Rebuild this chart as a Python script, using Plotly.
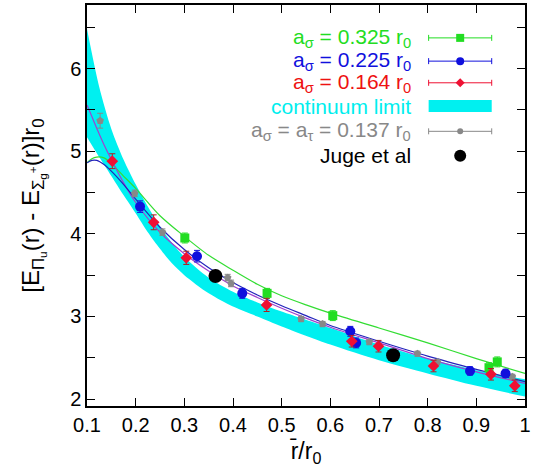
import plotly.graph_objects as go

# ---- data ----
band_x = [0.1, 0.125, 0.15, 0.175, 0.2, 0.225, 0.25, 0.275, 0.3, 0.35, 0.4, 0.45, 0.5, 0.6, 0.7, 0.8, 0.9, 1.0]
band_lo = [5.17, 4.93, 4.70, 4.47, 4.25, 4.02, 3.82, 3.64, 3.50, 3.28, 3.12, 3.00, 2.88, 2.66, 2.47, 2.31, 2.16, 2.03]
band_hi = [6.48, 5.78, 5.27, 4.90, 4.60, 4.33, 4.09, 3.89, 3.72, 3.47, 3.30, 3.17, 3.06, 2.86, 2.66, 2.49, 2.35, 2.24]

curve_x = [0.1, 0.11, 0.12, 0.135, 0.15, 0.175, 0.2, 0.25, 0.3, 0.35, 0.4, 0.45, 0.5, 0.55, 0.6, 0.7, 0.8, 0.9, 1.0]
green_fit = [4.86, 4.91, 4.93, 4.92, 4.85, 4.70, 4.55, 4.22, 3.97, 3.74, 3.56, 3.39, 3.25, 3.14, 3.04, 2.86, 2.68, 2.49, 2.31]
blue_fit = [4.86, 4.89, 4.89, 4.84, 4.76, 4.60, 4.42, 4.08, 3.81, 3.59, 3.41, 3.26, 3.13, 3.01, 2.89, 2.70, 2.52, 2.36, 2.21]
purple_fit = [5.56, 5.42, 5.28, 5.08, 4.90, 4.62, 4.38, 4.02, 3.76, 3.55, 3.37, 3.23, 3.10, 2.98, 2.87, 2.68, 2.49, 2.33, 2.19]

g_x = [0.301, 0.470, 0.605, 0.926, 0.943]
g_y = [3.95, 3.28, 3.01, 2.38, 2.45]
g_e = [0.06, 0.06, 0.06, 0.06, 0.06]

b_x = [0.209, 0.326, 0.419, 0.641, 0.653, 0.887, 0.960]
b_y = [4.33, 3.73, 3.28, 2.82, 2.68, 2.34, 2.31]
b_e = [0.07, 0.07, 0.06, 0.06, 0.06, 0.05, 0.05]

r_x = [0.152, 0.237, 0.304, 0.469, 0.644, 0.699, 0.812, 0.930, 0.979]
r_y = [4.88, 4.14, 3.71, 3.14, 2.70, 2.64, 2.40, 2.30, 2.16]
r_e = [0.09, 0.09, 0.08, 0.08, 0.07, 0.07, 0.07, 0.07, 0.07]

k_x = [0.127, 0.198, 0.255, 0.389, 0.396, 0.540, 0.584, 0.680, 0.779, 0.820, 0.974]
k_y = [5.37, 4.49, 4.02, 3.47, 3.40, 2.97, 2.91, 2.69, 2.55, 2.45, 2.27]
k_e = [0.09, 0.04, 0.04, 0.04, 0.04, 0.03, 0.03, 0.03, 0.03, 0.03, 0.03]

j_x = [0.364, 0.729]
j_y = [3.49, 2.53]

legend_labels = [
    "a<sub>σ</sub> = 0.325 r<sub>0</sub>",
    "a<sub>σ</sub> = 0.225 r<sub>0</sub>",
    "a<sub>σ</sub> = 0.164 r<sub>0</sub>",
    "continuum limit",
    "a<sub>σ</sub> = a<sub>τ</sub> = 0.137 r<sub>0</sub>",
    "Juge et al",
]
legend_colors = ["#22dd22", "#1010dd", "#ee1111", "#00eeee", "#888888", "#000000"]
legend_rows = [0.918, 0.860, 0.806, 0.748, 0.685, 0.624]

GREEN = "#22dd22"
BLUE = "#1010dd"
RED = "#ee1133"
GRAY = "#888888"
CYAN = "#00f0f0"
FONT = "Liberation Sans, Arial, sans-serif"

fig = go.Figure()

# continuum band
fig.add_trace(go.Scatter(x=band_x, y=band_lo, mode="lines", line=dict(width=0, color=CYAN, shape="spline", smoothing=0.8),
                         showlegend=False, hoverinfo="skip"))
fig.add_trace(go.Scatter(x=band_x, y=band_hi, mode="lines", line=dict(width=0, color=CYAN, shape="spline", smoothing=0.8),
                         fill="tonexty", fillcolor=CYAN, showlegend=False, hoverinfo="skip"))

# fit curves
fig.add_trace(go.Scatter(x=curve_x, y=green_fit, mode="lines", line=dict(color="#33dd33", width=1.2, shape="spline", smoothing=0.8),
                         showlegend=False))
fig.add_trace(go.Scatter(x=curve_x, y=purple_fit, mode="lines", line=dict(color="#a040d0", width=1.2, shape="spline", smoothing=0.8),
                         showlegend=False))
fig.add_trace(go.Scatter(x=curve_x, y=blue_fit, mode="lines", line=dict(color="#2222bb", width=1.2, shape="spline", smoothing=0.8),
                         showlegend=False))

# data points
fig.add_trace(go.Scatter(x=k_x, y=k_y, mode="markers",
                         marker=dict(symbol="pentagon", size=8, color=GRAY),
                         error_y=dict(type="data", array=k_e, color=GRAY, thickness=1, width=3), showlegend=False))
fig.add_trace(go.Scatter(x=g_x, y=g_y, mode="markers",
                         marker=dict(symbol="square", size=9, color=GREEN),
                         error_y=dict(type="data", array=g_e, color=GREEN, thickness=1, width=3), showlegend=False))
fig.add_trace(go.Scatter(x=b_x, y=b_y, mode="markers",
                         marker=dict(symbol="circle", size=10, color=BLUE),
                         error_y=dict(type="data", array=b_e, color=BLUE, thickness=1, width=3), showlegend=False))
fig.add_trace(go.Scatter(x=r_x, y=r_y, mode="markers",
                         marker=dict(symbol="diamond", size=9, color=RED),
                         error_y=dict(type="data", array=r_e, color="#aa2222", thickness=1, width=3), showlegend=False))
fig.add_trace(go.Scatter(x=j_x, y=j_y, mode="markers",
                         marker=dict(symbol="circle", size=14, color="black"), showlegend=False))

# custom legend (text right-aligned, sample on the right)
sample_x = 0.852
sample_half = 0.072
sample_markers = [("square", 8, GREEN), ("circle", 8, BLUE), ("diamond", 7, RED), None, ("circle", 6, GRAY), ("circle", 12, "black")]
for lbl, col, yy, mk in zip(legend_labels, legend_colors, legend_rows, sample_markers):
    fig.add_annotation(x=0.745, y=yy, xref="paper", yref="paper", text=lbl, showarrow=False,
                       xanchor="right", yanchor="middle", font=dict(size=21, color=col, family=FONT))
    if mk is None:
        fig.add_shape(type="rect", xref="paper", yref="paper", x0=sample_x - sample_half, x1=sample_x + sample_half,
                      y0=yy - 0.015, y1=yy + 0.015, fillcolor=CYAN, line=dict(width=0))
    else:
        sym, sz, c = mk
        fig.add_trace(go.Scatter(x=[sample_x], y=[yy], xaxis="x2", yaxis="y2", mode="markers",
                                 marker=dict(symbol=sym, size=sz, color=c),
                                 error_x=dict(type="constant", value=sample_half if c != "black" else 0,
                                              color=c, thickness=1, width=3, visible=(c != "black")),
                                 showlegend=False, hoverinfo="skip"))

axis_common = dict(showline=True, linecolor="black", linewidth=1.5, mirror="allticks", ticks="inside",
                   ticklen=8, tickwidth=1.2, tickcolor="black", showgrid=False, zeroline=False,
                   tickfont=dict(size=20, family=FONT, color="black"))

fig.update_layout(
    width=534, height=476,
    margin=dict(l=87, r=8, t=3, b=70),
    paper_bgcolor="white", plot_bgcolor="white",
    font=dict(family=FONT, color="black"),
    showlegend=False,
    xaxis=dict(range=[0.1, 1.0], tickvals=[0.1, 0.2, 0.3, 0.4, 0.5, 0.6, 0.7, 0.8, 0.9, 1.0],
               ticktext=["0.1", "0.2", "0.3", "0.4", "0.5", "0.6", "0.7", "0.8", "0.9", "1"],
               title=dict(text="r\u0304/r<sub>0</sub>", font=dict(size=23, family=FONT), standoff=8),
               **axis_common),
    yaxis=dict(range=[1.916, 6.771], tickvals=[2, 3, 4, 5, 6],
               minor=dict(dtick=0.5, tick0=2, ticks="inside", ticklen=8, tickcolor="black", tickwidth=1.2),
               title=dict(text="[E<sub>Π<sub>u</sub></sub>(r) - E<sub>Σ<sub>g</sub><sup>+</sup></sub>(r)]r<sub>0</sub>",
                          font=dict(size=24, family=FONT), standoff=24),
               **axis_common),
    xaxis2=dict(range=[0, 1], overlaying="x", visible=False, fixedrange=True),
    yaxis2=dict(range=[0, 1], overlaying="y", visible=False, fixedrange=True),
)

fig.write_html("out.html")
